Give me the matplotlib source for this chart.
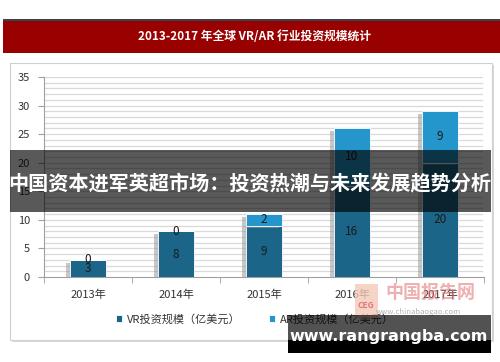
import matplotlib
matplotlib.use("Agg")
import matplotlib.pyplot as plt
from matplotlib.patches import Rectangle
from matplotlib import patheffects as pe
import numpy as np

plt.rcParams['font.family'] = ['Noto Sans CJK SC', 'DejaVu Sans']

years = ["2013年", "2014年", "2015年", "2016年", "2017年"]
vr = [3, 8, 9, 16, 20]
ar = [0, 0, 2, 10, 9]
vr_label = "VR投资规模（亿美元）"
ar_label = "AR投资规模（亿美元）"
title = "2013-2017 年全球 VR/AR 行业投资规模统计"
banner = "中国资本进军英超市场：投资热潮与未来发展趋势分析"
site = "www.rangrangba.com"

W, H = 500, 362
fig = plt.figure(figsize=(W / 100, H / 100), dpi=100)
fig.patch.set_facecolor("white")


def fx(x):
    return x / W


def fy(y):
    return 1 - y / H


def rect(x0, y0, x1, y1, **kw):
    r = Rectangle((fx(x0), fy(y1)), fx(x1) - fx(x0), fy(y0) - fy(y1),
                  transform=fig.transFigure, **kw)
    fig.add_artist(r)
    return r


# chart panel with shadow
rect(12, 65, 494, 342, facecolor="#d8d8d8", edgecolor="none", zorder=0)
rect(10, 63, 492, 340, facecolor="white", edgecolor="#d0d0d0", linewidth=0.8, zorder=0)

# title bar
rect(3, 20, 500, 53, facecolor="#990000", edgecolor="none", zorder=1)
rect(3, 19.5, 500, 21, facecolor="#3a4250", edgecolor="none", zorder=1)
fig.text(fx(255), fy(37), title, color="white", fontsize=8.5, fontweight="bold",
         ha="center", va="center", zorder=2)

ax = fig.add_axes([fx(44), fy(277), fx(484) - fx(44), fy(77) - fy(277)])
ax.set_facecolor("none")
x = np.arange(len(years))
ax.set_xlim(-0.5, len(years) - 0.5)
ax.set_ylim(0, 35)

for yv in range(1, 36):
    ax.axhline(yv, color="#d9d9d9", linewidth=0.9, zorder=0, xmax=0.995)

shadow = [pe.SimplePatchShadow(offset=(-2.5, -2), shadow_rgbFace="#9a9a9a", alpha=0.55), pe.Normal()]
bw = 0.41
b1 = ax.bar(x, vr, width=bw, color="#1b6588", edgecolor="white", linewidth=0.6,
            label=vr_label, zorder=3)
b2 = ax.bar(x, ar, width=bw, bottom=vr, color="#2596cc", edgecolor="white", linewidth=0.6,
            label=ar_label, zorder=3)

for i in range(len(years)):
    ax.text(x[i], vr[i] / 2, str(vr[i]), ha="center", va="center", fontsize=8.5,
            color="#1a1a1a", zorder=4)
    ax.text(x[i], vr[i] + ar[i] / 2, str(ar[i]), ha="center", va="center", fontsize=8.5,
            color="#1a1a1a", zorder=4)

ax.set_yticks(range(0, 36, 5))
ax.set_xticks(x)
ax.set_xticklabels(years)
ax.set_xticks(np.arange(-0.5, len(years), 1), minor=True)
ax.tick_params(axis="x", which="major", length=0, pad=9, labelsize=8, colors="#333333")
ax.tick_params(axis="x", which="minor", length=4, color="#a0a0a0")
ax.tick_params(axis="y", length=4, color="#a0a0a0", labelsize=8, labelcolor="#333333", pad=6)
for s in ["top", "right"]:
    ax.spines[s].set_visible(False)
ax.spines["left"].set_color("#a0a0a0")
ax.spines["bottom"].set_color("#a0a0a0")

ax.legend(ncol=2, loc="center", bbox_to_anchor=(fx(255), fy(319)),
          bbox_transform=fig.transFigure, frameon=False, handlelength=0.55,
          handleheight=0.55, handletextpad=0.4, fontsize=8, columnspacing=2.6,
          labelcolor="#333333")

# bar shadows applied after the legend so legend handles stay plain
for p in list(b1) + list(b2):
    if p.get_height() > 0:
        p.set_path_effects(shadow)

# watermark
rect(355, 284, 378, 318, facecolor="#f3c9b8", edgecolor="none", alpha=0.8, zorder=5)
fig.text(fx(366), fy(306), "CEG", color="#e06060", fontsize=6, fontweight="bold",
         ha="center", va="center", alpha=0.8, zorder=6)
fig.text(fx(430), fy(292), "中国报告网", color="#e07070", fontsize=13, fontweight="bold",
         ha="center", va="center", alpha=0.55, zorder=6)
fig.text(fx(418), fy(312), "www.chinabaogao.com", color="#aaaaaa", fontsize=5.5,
         ha="center", va="center", alpha=0.9, zorder=6)

# overlay banner
rect(10, 150, 491, 212, facecolor="black", edgecolor="none", alpha=0.65, zorder=10)
fig.text(fx(250), fy(184), banner, color="white", fontsize=14.5, fontweight="bold",
         ha="center", va="center", zorder=11)

# bottom site box
rect(288, 315, 491, 340, facecolor="black", edgecolor="none", alpha=0.68, zorder=10)
rect(288, 340, 491, 353, facecolor="black", edgecolor="none", zorder=10)
fig.text(fx(389), fy(337), site, color="white", fontsize=11.5, fontweight="bold",
         ha="center", va="center", zorder=11, family="DejaVu Sans")

fig.savefig("out.png", dpi=100)
